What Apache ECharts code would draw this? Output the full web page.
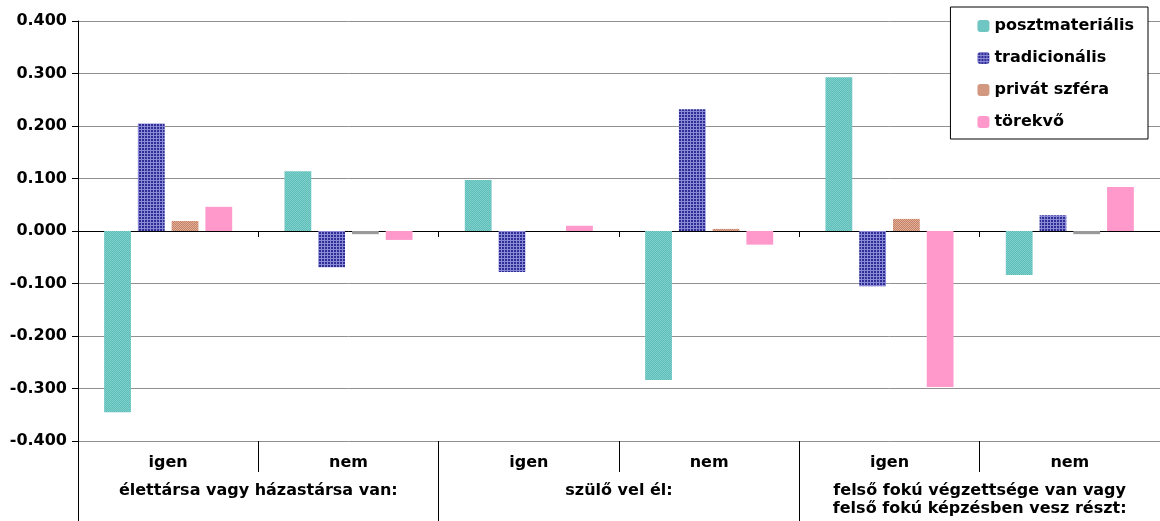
<!DOCTYPE html>
<html>
<head>
<meta charset="utf-8">
<script src="https://cdn.jsdelivr.net/npm/echarts@6/dist/echarts.min.js"></script>
<style>
  html, body { margin: 0; padding: 0; background: #fff; }
  #chart { width: 1160px; height: 521px; }
</style>
</head>
<body>
<div id="chart"></div>
<script>
// kategóriák
const subCategories = ["igen", "nem", "igen", "nem", "igen", "nem"];
const groupCategories = [
    "élettársa vagy házastársa van:",
    "szülő vel él:",
    "felső fokú végzettsége van vagy\nfelső fokú képzésben vesz részt:"
];
const seriesNames = ["posztmateriális", "tradicionális", "privát szféra", "törekvő"];

// értékek
const posztmaterialis = [-0.345, 0.114, 0.097, -0.284, 0.293, -0.084];
const tradicionalis = [0.205, -0.069, -0.078, 0.232, -0.105, 0.030];
const privatSzfera = [0.019, -0.006, 0.000, 0.004, 0.023, -0.006];
const torekvo = [0.046, -0.017, 0.010, -0.026, -0.297, 0.084];

const yTicks = { min: -0.4, max: 0.4, interval: 0.1 };

// kis mintázatok a hasábokhoz
function makePattern(size, draw) {
    const c = document.createElement("canvas");
    c.width = size;
    c.height = size;
    draw(c.getContext("2d"));
    return { image: c, repeat: "repeat" };
}

const tealPattern = makePattern(2, (ctx) => {
    ctx.fillStyle = "#5dbdb9";
    ctx.fillRect(0, 0, 2, 2);
    ctx.fillStyle = "#80d0cc";
    ctx.fillRect(0, 0, 1, 1);
    ctx.fillRect(1, 1, 1, 1);
});

const bluePattern = makePattern(3, (ctx) => {
    ctx.fillStyle = "#2e2e94";
    ctx.fillRect(0, 0, 3, 3);
    ctx.fillStyle = "#8a8ad6";
    ctx.fillRect(0, 0, 3, 1);
    ctx.fillRect(0, 0, 1, 3);
});

const brownPattern = makePattern(2, (ctx) => {
    ctx.fillStyle = "#c2836a";
    ctx.fillRect(0, 0, 2, 2);
    ctx.fillStyle = "#e3ad96";
    ctx.fillRect(0, 0, 1, 1);
    ctx.fillRect(1, 1, 1, 1);
});

const pinkColor = "#ff99cc";
const negativeGray = "#999999";

const chart = echarts.init(document.getElementById("chart"));

const labelFont = {
    fontFamily: "DejaVu Sans",
    fontWeight: "bold",
    fontSize: 16,
    color: "#000"
};

function barSeries(name, values, fill, grayIfNegative) {
    return {
        name: name,
        type: "bar",
        xAxisIndex: 0,
        barGap: "26%",
        barCategoryGap: "29%",
        itemStyle: { color: fill },
        data: values.map((v) => grayIfNegative && v < 0
            ? { value: v, itemStyle: { color: negativeGray } }
            : v)
    };
}

const options = {
    animation: false,
    backgroundColor: "#fff",
    grid: { left: 78, right: 0, top: 21, bottom: 80 },
    legend: {
        orient: "vertical",
        right: 12,
        top: 7,
        itemWidth: 12,
        itemHeight: 12,
        itemGap: 16,
        padding: [11, 14, 9, 27],
        borderColor: "#000",
        borderWidth: 1,
        backgroundColor: "#fff",
        align: "left",
        textStyle: labelFont,
        data: seriesNames
    },
    xAxis: [
        {
            type: "category",
            data: subCategories,
            axisLine: { onZero: true, lineStyle: { color: "#000", width: 1 } },
            axisTick: { show: true, interval: 0, length: 6, lineStyle: { color: "#000" } },
            axisLabel: { show: false },
            splitLine: { show: false }
        },
        {
            type: "category",
            position: "bottom",
            data: subCategories,
            axisLine: { show: false, onZero: false },
            axisTick: { show: true, interval: 0, length: 31, lineStyle: { color: "#000" } },
            axisLabel: Object.assign({ interval: 0, margin: 14 }, labelFont),
            splitLine: { show: false }
        },
        {
            type: "category",
            position: "bottom",
            data: groupCategories,
            axisLine: { show: false, onZero: false },
            axisTick: { show: true, interval: 0, length: 80, lineStyle: { color: "#000" } },
            axisLabel: Object.assign({ interval: 0, margin: 41, lineHeight: 18 }, labelFont),
            splitLine: { show: false }
        }
    ],
    yAxis: {
        type: "value",
        min: yTicks.min,
        max: yTicks.max,
        interval: yTicks.interval,
        axisLine: { show: true, lineStyle: { color: "#000" } },
        axisTick: { show: true, length: 6, lineStyle: { color: "#000" } },
        axisLabel: Object.assign({ margin: 11, formatter: (v) => v.toFixed(3) }, labelFont),
        splitLine: { lineStyle: { color: "#909090", width: 1 } }
    },
    series: [
        barSeries(seriesNames[0], posztmaterialis, tealPattern, false),
        barSeries(seriesNames[1], tradicionalis, bluePattern, false),
        barSeries(seriesNames[2], privatSzfera, brownPattern, true),
        barSeries(seriesNames[3], torekvo, pinkColor, false)
    ]
};

chart.setOption(options);
</script>
</body>
</html>
